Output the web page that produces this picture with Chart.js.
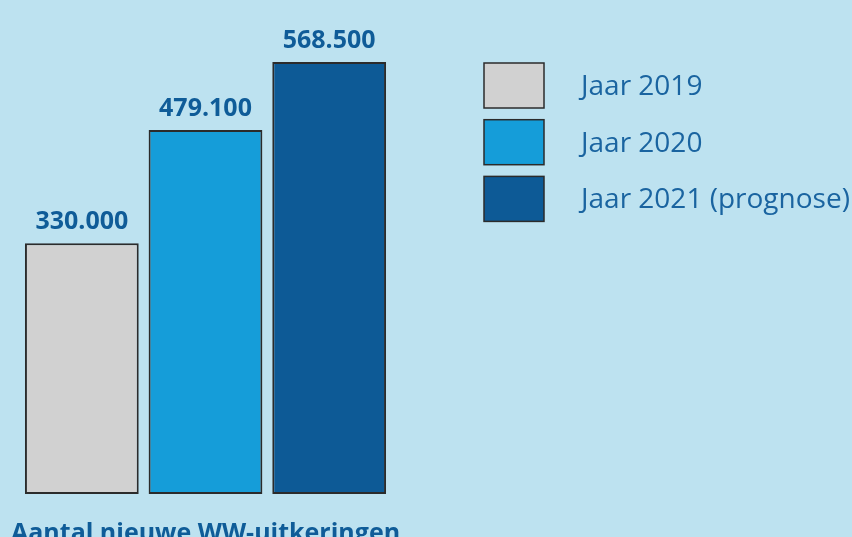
<!DOCTYPE html>
<html>
<head>
<meta charset="utf-8">
<script src="https://cdn.jsdelivr.net/npm/chart.js@4/dist/chart.umd.min.js"></script>
<style>
  html, body { margin: 0; padding: 0; background: #bde2f0; overflow: hidden; }
  #wrap { width: 852px; height: 537px; position: relative; }
</style>
</head>
<body>
<div id="wrap"><canvas id="barChart"></canvas></div>
<script>
// data
const years = ["Jaar 2019", "Jaar 2020", "Jaar 2021 (prognose)"];
const uitkeringen = [330000, 479100, 568500];
const barColors = ["#d1d1d1", "#159dd9", "#0d5a96"];
const bottomLabel = "Aantal nieuwe WW-uitkeringen";

const textBlue = "#0f5c98";

/* value labels above the bars, legend on the right, label under the bars */
const extras = {
  id: 'extras',
  afterDraw: (chart) => {
    let ctx = chart.ctx;
    let meta = chart.getDatasetMeta(0);
    ctx.save();

    // numbers above bars
    ctx.fillStyle = textBlue;
    ctx.font = "bold 25px 'Open Sans'";
    ctx.textAlign = "center";
    ctx.textBaseline = "alphabetic";
    meta.data.forEach((bar, i) => {
      let txt = uitkeringen[i].toLocaleString('nl-NL');
      ctx.fillText(txt, bar.x, bar.y - 14);
    });

    // legend
    ctx.font = "28px 'Open Sans'";
    ctx.textAlign = "left";
    ctx.textBaseline = "middle";
    years.forEach((label, i) => {
      let y = 63 + i * 56.7;
      ctx.fillStyle = barColors[i];
      ctx.fillRect(484, y, 60, 45);
      ctx.strokeStyle = "#2b2b2b";
      ctx.lineWidth = 1.5;
      ctx.strokeRect(484, y, 60, 45);
      ctx.fillStyle = "#1a64a0";
      ctx.fillText(label, 581, y + 24);
    });

    // label under the bars (cut off by the bottom edge)
    ctx.fillStyle = textBlue;
    ctx.font = "bold 25px 'Open Sans'";
    ctx.textBaseline = "alphabetic";
    ctx.fillText(bottomLabel, 11, 541);
    ctx.restore();
  }
};

const ctx = document.getElementById('barChart').getContext('2d');
new Chart(ctx, {
  type: "bar",
  data: {
    labels: years,
    datasets: [{
      data: uitkeringen,
      backgroundColor: barColors,
      borderColor: "#2b2b2b",
      borderWidth: 2,
      borderSkipped: false,
      barPercentage: 0.92,
      categoryPercentage: 1.0
    }]
  },
  options: {
    responsive: true,
    maintainAspectRatio: false,
    animation: false,
    layout: { padding: { left: 20, right: 461, top: 38, bottom: 43 } },
    scales: {
      x: { display: false },
      y: { display: false, min: 0, max: 600000 }
    },
    plugins: {
      legend: { display: false },
      tooltip: { enabled: false }
    }
  },
  plugins: [extras]
});
</script>
</body>
</html>
